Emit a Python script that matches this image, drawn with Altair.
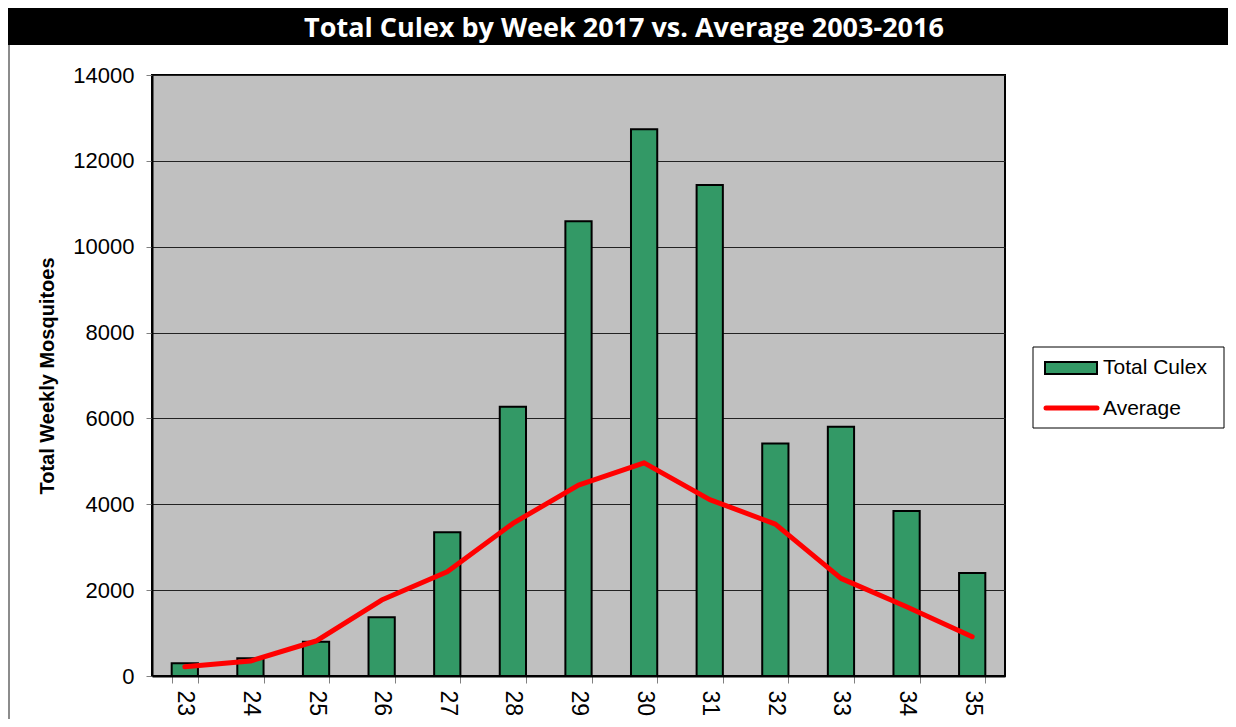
import altair as alt
import pandas as pd

weeks = ["23", "24", "25", "26", "27", "28", "29", "30", "31", "32", "33", "34", "35"]
total_culex = [296, 412, 799, 1367, 3346, 6270, 10594, 12736, 11435, 5418, 5805, 3842, 2398]
average = [217, 349, 815, 1770, 2428, 3555, 4447, 4966, 4110, 3539, 2275, 1614, 915]
y_ticks = [0, 2000, 4000, 6000, 8000, 10000, 12000, 14000]
title_text = "Total Culex by Week 2017 vs. Average 2003-2016"
y_title = "Total Weekly Mosquitoes"
legend_labels = ["Total Culex", "Average"]

GREEN = "#339966"
RED = "#FF0000"
FONT = "Liberation Sans"

df = pd.DataFrame({"week": weeks, "culex": total_culex, "average": average})
one = pd.DataFrame({"k": [0]})

x_enc = alt.X(
    "week:O", sort=weeks,
    scale=alt.Scale(paddingInner=0.6, paddingOuter=0.3),
    axis=alt.Axis(title=None, labelAngle=90, labelFontSize=23, labelFont=FONT,
                  labelColor="black", tickBand="extent", tickSize=7,
                  tickColor="#808080", domainColor="black", domainWidth=2,
                  labelPadding=7),
)
y_axis = alt.Axis(values=y_ticks, format="d", title=y_title, titleFontSize=20,
                  titleFont=FONT, titleFontWeight="bold", titleColor="black",
                  titlePadding=15, labelFontSize=22, labelFont=FONT,
                  labelColor="black", labelPadding=12, tickSize=6,
                  tickColor="#808080", gridColor="#222222", gridWidth=1,
                  domainColor="black", domainWidth=2)
y_scale = alt.Scale(domain=[0, 14000], nice=False)

bars = alt.Chart(df).mark_bar(fill=GREEN, stroke="black", strokeWidth=2).encode(
    x=x_enc, y=alt.Y("culex:Q", scale=y_scale, axis=y_axis)
)
line = alt.Chart(df).mark_line(color=RED, strokeWidth=5, strokeCap="round",
                               strokeJoin="round").encode(
    x=x_enc, y=alt.Y("average:Q", scale=y_scale, axis=y_axis)
)

# title bar
title_bar = alt.Chart(one).mark_rect(fill="black").encode(
    x=alt.value(-144), x2=alt.value(1076), y=alt.value(-68), y2=alt.value(-30)
)
title_txt = alt.Chart(one).mark_text(
    text=title_text, font="Open Sans", fontWeight="bold", fontSize=27, color="white",
    align="center", baseline="alphabetic"
).encode(x=alt.value(472), y=alt.value(-38))
frame = alt.Chart(one).mark_rule(color="#8c8c8c", strokeWidth=2).encode(
    x=alt.value(-143), y=alt.value(-30), y2=alt.value(644)
)

# legend
leg_box = alt.Chart(one).mark_rect(fill="white", stroke="black", strokeWidth=1).encode(
    x=alt.value(881), x2=alt.value(1072), y=alt.value(272), y2=alt.value(353)
)
leg_sw = alt.Chart(one).mark_rect(fill=GREEN, stroke="black", strokeWidth=2).encode(
    x=alt.value(893), x2=alt.value(945), y=alt.value(287), y2=alt.value(299)
)
leg_ln = alt.Chart(one).mark_rule(color=RED, strokeWidth=5, strokeCap="round").encode(
    x=alt.value(894), x2=alt.value(945), y=alt.value(333)
)
leg_t1 = alt.Chart(one).mark_text(
    text=legend_labels[0], font=FONT, fontSize=21, color="black",
    align="left", baseline="middle"
).encode(x=alt.value(951), y=alt.value(293))
leg_t2 = alt.Chart(one).mark_text(
    text=legend_labels[1], font=FONT, fontSize=21, color="black",
    align="left", baseline="middle"
).encode(x=alt.value(951), y=alt.value(334))

chart = alt.layer(
    bars, line, title_bar, title_txt, frame, leg_box, leg_sw, leg_ln, leg_t1, leg_t2
).resolve_scale(y="shared").properties(
    width=853, height=601,
    autosize=alt.AutoSizeParams(type="none"),
    padding={"left": 144, "top": 67, "right": 223, "bottom": 43},
    background="white",
).configure_view(
    fill="#C0C0C0", stroke="black", strokeWidth=2
)

chart.save("out.html", embed_options={"renderer": "svg", "actions": False})
